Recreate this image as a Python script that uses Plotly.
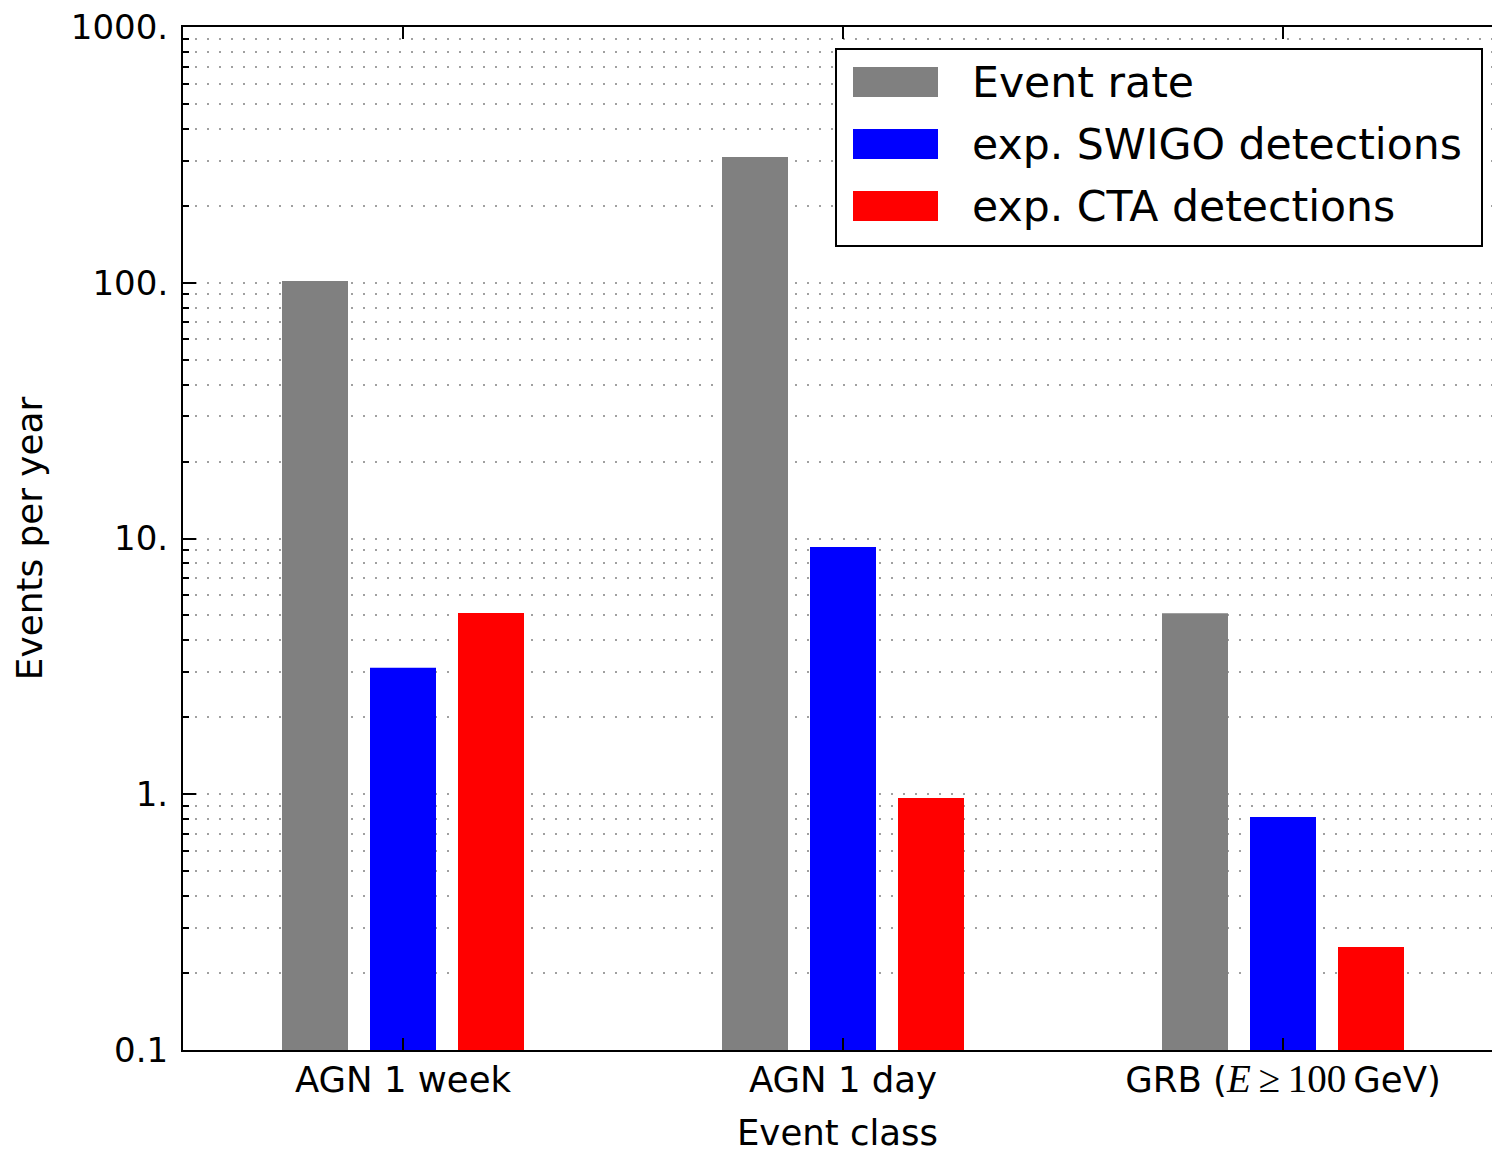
import plotly.graph_objects as go

# Event classes and yearly rates
categories = ["AGN 1 week", "AGN 1 day", "GRB (E>=100 GeV)"]
tick_labels = [
    "AGN 1 week",
    "AGN 1 day",
    "GRB (<span style=\"font-family:'Liberation Serif';font-size:39px\"><i>E</i>\u2009\u2265\u2009100</span>\u2009GeV)",
]

event_rate = [101.6, 310.0, 5.1]
swigo_detections = [3.12, 9.27, 0.815]
cta_detections = [5.11, 0.966, 0.253]

series_names = ["Event rate", "exp. SWIGO detections", "exp. CTA detections"]
series_values = [event_rate, swigo_detections, cta_detections]
series_colors = ["#808080", "#0000ff", "#ff0000"]

y_tick_vals = [0.1, 1, 10, 100, 1000]
y_tick_text = ["0.1", "1.", "10.", "100.", "1000."]

W, H = 1492, 1153
L, T, R, B = 183, 27, 0, 103
plot_w = W - L - R
plot_h = H - T - B

fig = go.Figure()
for name, vals, col in zip(series_names, series_values, series_colors):
    fig.add_trace(go.Bar(x=categories, y=vals, name=name, marker_color=col,
                         marker_line_width=0, showlegend=False))

minor_vals = [k * 10 ** e for e in range(-1, 3) for k in range(2, 10)]

grid_style = dict(gridcolor="#a0a0a0", gridwidth=1.6, griddash="2px,10px")

font_family = "DejaVu Sans"
fig.update_layout(
    width=W, height=H,
    margin=dict(l=L, r=R, t=T, b=B, pad=0, autoexpand=False),
    paper_bgcolor="white", plot_bgcolor="white",
    barmode="group", bargap=0.4, bargroupgap=0.25,
    font=dict(family=font_family, size=35, color="black"),
)

fig.update_xaxes(
    type="category", range=[-0.5, 2.475], automargin=False,
    tickvals=categories, ticktext=tick_labels,
    ticks="inside", ticklen=12, tickwidth=1.5, tickcolor="black",
    ticklabelstandoff=-3,
    showline=True, linewidth=2, linecolor="black", mirror="ticks",
    showgrid=False,
    tickfont=dict(size=35.5),
    title=dict(text="Event class", font=dict(size=35.5), standoff=33),
)

fig.update_yaxes(
    type="log", range=[-1, 3], automargin=False,
    tickvals=y_tick_vals, ticktext=y_tick_text,
    ticks="inside", ticklen=13, tickwidth=1.5, tickcolor="black",
    ticklabelstandoff=6,
    showline=True, linewidth=2, linecolor="black",
    showgrid=True, **grid_style,
    minor=dict(tickvals=minor_vals, ticks="inside", ticklen=6, tickwidth=1.5,
               tickcolor="black", showgrid=True, **grid_style),
    tickfont=dict(size=34),
    title=dict(text="Events per year", font=dict(size=35.8), standoff=17),
)


# Legend drawn as paper-space boxes and labels
def px_x(px):
    return (px - L) / plot_w


def px_y(py):
    return (H - B - py) / plot_h


fig.add_shape(type="rect", xref="paper", yref="paper",
              x0=px_x(836), x1=px_x(1482), y0=px_y(246), y1=px_y(49),
              line=dict(color="black", width=2), fillcolor="white", layer="above")

row_centers = [82, 144, 206]
for name, col, cy in zip(series_names, series_colors, row_centers):
    fig.add_shape(type="rect", xref="paper", yref="paper",
                  x0=px_x(853), x1=px_x(938), y0=px_y(cy + 15), y1=px_y(cy - 15),
                  line=dict(width=0), fillcolor=col, layer="above")
    fig.add_annotation(xref="paper", yref="paper", x=px_x(970), y=px_y(cy),
                       text=name, showarrow=False, xanchor="left", yanchor="middle",
                       font=dict(size=42.6, family=font_family, color="black"))

fig.write_html("out.html")
